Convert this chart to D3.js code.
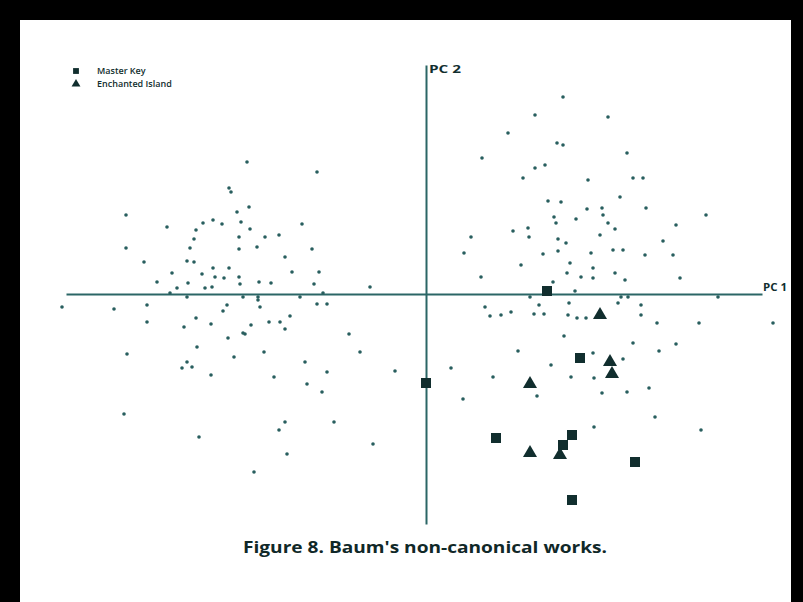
<!DOCTYPE html>
<html>
<head>
<meta charset="utf-8">
<script src="https://cdn.jsdelivr.net/npm/d3@7"></script>
<style>
  body { margin: 0; background: #fff; }
  svg { display: block; }
</style>
</head>
<body>
<div id="chart"></div>
<script>
// Other Baum texts (small dots), principal component scores
const otherPC1 = [
  -1.79,-1.97,-1.95,-3.00,-1.89,-2.59,-2.23,-2.13,-2.04,-1.85,-1.77,-2.30,-2.32,-2.36,-1.87,-3.00,-2.82,-2.39,-2.32,-1.87,
  -2.69,-2.54,-2.38,-2.24,-2.13,-2.11,-2.02,-1.97,-1.87,-1.86,-2.21,-2.14,-2.49,-2.56,-2.39,-1.83,-1.09,-1.76,-1.24,-1.61,
  -1.47,-1.69,-1.14,-1.41,-1.34,-1.07,-1.67,-1.55,-1.12,-0.56,-1.03,-1.26,-1.68,
  -3.64,-3.12,-2.79,-2.79,-2.03,-1.99,-2.15,-2.30,-2.42,-2.99,-2.29,-1.98,-1.83,-1.92,-2.39,-2.44,-2.34,-2.15,-3.02,-2.27,
  -1.68,-1.66,-1.09,-0.99,-1.57,-1.46,-1.36,-1.41,-1.75,-1.81,-1.62,-1.21,-1.52,-0.99,-0.77,-0.66,-1.19,-1.04,-0.31,-1.41,
  -1.47,-0.92,-0.53,-1.39,-1.72,
  1.37,1.09,1.82,0.82,1.31,1.37,2.01,0.56,1.09,1.19,0.97,1.62,1.22,1.35,1.94,1.61,1.76,1.77,1.28,1.30,
  1.50,1.82,1.89,0.87,1.02,1.03,1.32,1.40,0.45,1.74,0.38,1.17,1.32,1.65,1.87,1.97,0.95,1.44,1.67,0.55,
  1.41,1.55,1.67,1.89,1.99,1.27,1.49,2.07,2.17,2.20,2.80,2.50,2.37,2.19,2.47,2.54,2.92,1.95,
  1.04,0.59,0.64,0.75,0.85,1.13,1.08,1.18,1.42,1.51,1.60,1.43,1.38,0.92,1.67,1.97,1.45,1.68,1.25,0.25,
  0.67,1.11,0.37,1.76,2.01,1.68,2.02,1.92,2.15,2.15,2.31,2.73,3.47,2.07,2.50,2.33,2.23,2.29,2.75
];
const otherPC2 = [
  1.32,1.06,1.02,0.79,0.82,0.67,0.71,0.74,0.70,0.72,0.87,0.64,0.55,0.46,0.45,0.46,0.32,0.33,0.32,0.57,
  0.12,0.21,0.11,0.20,0.26,0.17,0.16,0.26,0.17,0.10,0.06,0.07,0.06,0.01,-0.03,-0.03,1.22,0.65,0.70,0.57,
  0.59,0.47,0.45,0.37,0.22,0.22,0.12,0.11,0.10,0.07,0.01,-0.03,-0.03,
  -0.13,-0.15,-0.11,-0.28,-0.17,-0.11,-0.30,-0.24,-0.33,-0.60,-0.53,-0.44,-0.39,-0.63,-0.68,-0.74,-0.73,-0.81,-1.20,-1.43,
  -0.06,-0.13,-0.10,-0.10,-0.28,-0.28,-0.22,-0.35,-0.31,-0.40,-0.58,-0.68,-0.83,-0.78,-0.40,-0.58,-0.90,-0.98,-0.77,-1.28,
  -1.36,-1.28,-1.50,-1.60,-1.78,
  1.97,1.79,1.77,1.61,1.51,1.49,1.41,1.36,1.26,1.29,1.16,1.14,0.93,0.92,0.97,0.85,0.86,0.79,0.77,0.71,
  0.75,0.71,0.65,0.63,0.66,0.57,0.55,0.51,0.57,0.59,0.41,0.40,0.43,0.41,0.44,0.44,0.29,0.31,0.26,0.17,
  0.21,0.17,0.16,0.21,0.14,0.12,0.03,1.16,1.16,0.86,0.79,0.69,0.53,0.39,0.39,0.16,-0.03,-0.03,
  -0.03,-0.13,-0.22,-0.21,-0.18,-0.11,-0.20,-0.20,-0.21,-0.24,-0.24,-0.09,-0.42,-0.57,-0.59,-0.65,-0.83,-0.84,-0.71,-0.74,
  -0.83,-1.02,-1.05,-0.99,-0.98,-1.33,-0.03,-0.09,-0.11,-0.21,-0.29,-0.29,-0.29,-0.49,-0.50,-0.57,-0.94,-1.23,-1.36
];

// The Master Key (squares)
const keyPC1 = [1.21, 0.00, 1.54, 0.70, 1.46, 1.37, 1.46, 2.09];
const keyPC2 = [0.03, -0.89, -0.64, -1.44, -1.41, -1.51, -2.06, -1.68];

// The Enchanted Island of Yew (triangles)
const islandPC1 = [1.74, 1.04, 1.04, 1.34, 1.84, 1.86];
const islandPC2 = [-0.21, -0.90, -1.59, -1.61, -0.68, -0.80];

const seriesNames = ['Master Key', 'Enchanted Island'];
const axisLabels = ['PC 1', 'PC 2'];
const caption = "Figure 8. Baum's non-canonical works.";

const width = 803, height = 602;
const ink = '#112e2e';
const lineCol = '#2b6666';

const svg = d3.select('#chart').append('svg')
    .attr('width', width)
    .attr('height', height);

// scanned-page black margins
svg.append('rect').attr('x', 0).attr('y', 0).attr('width', width).attr('height', 20).attr('fill', '#000');
svg.append('rect').attr('x', 0).attr('y', 0).attr('width', 20).attr('height', height).attr('fill', '#000');
svg.append('rect').attr('x', 791).attr('y', 0).attr('width', 12).attr('height', height).attr('fill', '#000');

const x = d3.scaleLinear().domain([-3.6, 3.36]).range([66, 762]);
const y = d3.scaleLinear().domain([-2.3, 2.29]).range([524, 65]);

// axes through origin, no ticks
svg.append('g')
    .attr('transform', `translate(0,${y(0)})`)
    .call(d3.axisBottom(x).tickValues([]).tickSizeOuter(0))
    .call(g => g.select('.domain').attr('stroke', lineCol).attr('stroke-width', 2));

svg.append('g')
    .attr('transform', `translate(${x(0)},0)`)
    .call(d3.axisLeft(y).tickValues([]).tickSizeOuter(0))
    .call(g => g.select('.domain').attr('stroke', lineCol).attr('stroke-width', 2));

svg.append('text')
    .attr('x', x(3.36) + 1).attr('y', y(0) - 3)
    .attr('font-family', 'Open Sans, sans-serif').attr('font-size', 10)
    .attr('font-weight', 'bold')
    .attr('textLength', 24)
    .attr('lengthAdjust', 'spacingAndGlyphs')
    .attr('fill', ink)
    .text(axisLabels[0]);

svg.append('text')
    .attr('x', x(0) + 3).attr('y', y(2.29) + 8)
    .attr('font-family', 'Open Sans, sans-serif').attr('font-size', 10)
    .attr('font-weight', 'bold')
    .attr('textLength', 32)
    .attr('lengthAdjust', 'spacingAndGlyphs')
    .attr('fill', ink)
    .text(axisLabels[1]);

// other works
svg.append('g')
    .selectAll('circle')
    .data(d3.range(otherPC1.length))
    .enter()
    .append('circle')
    .attr('cx', i => x(otherPC1[i]))
    .attr('cy', i => y(otherPC2[i]))
    .attr('r', 1.8)
    .attr('fill', '#285e5e');

const square = d3.symbol().type(d3.symbolSquare).size(100);
const triangle = d3.symbol().type(d3.symbolTriangle).size(85);

svg.append('g')
    .selectAll('path')
    .data(d3.range(keyPC1.length))
    .enter()
    .append('path')
    .attr('d', square)
    .attr('transform', i => `translate(${x(keyPC1[i])},${y(keyPC2[i])})`)
    .attr('fill', ink);

svg.append('g')
    .selectAll('path')
    .data(d3.range(islandPC1.length))
    .enter()
    .append('path')
    .attr('d', triangle)
    .attr('transform', i => `translate(${x(islandPC1[i])},${y(islandPC2[i])})`)
    .attr('fill', ink);

// legend
const legend = svg.append('g').attr('transform', 'translate(76,71)');
seriesNames.forEach((name, i) => {
    const row = legend.append('g').attr('transform', `translate(0,${i * 13})`);
    row.append('path')
        .attr('d', d3.symbol().type(i ? d3.symbolTriangle : d3.symbolSquare).size(34))
        .attr('fill', ink);
    row.append('text')
        .attr('x', 21).attr('y', 3)
        .attr('font-family', 'Open Sans, sans-serif').attr('font-size', 9)
        .attr('font-weight', 600)
        .attr('fill', ink)
        .text(name);
});

// caption
svg.append('text')
    .attr('x', 425).attr('y', 553)
    .attr('text-anchor', 'middle')
    .attr('font-family', 'Open Sans, sans-serif').attr('font-size', 16)
    .attr('font-weight', 'bold')
    .attr('textLength', 364)
    .attr('lengthAdjust', 'spacingAndGlyphs')
    .attr('fill', '#102828')
    .text(caption);
</script>
</body>
</html>
